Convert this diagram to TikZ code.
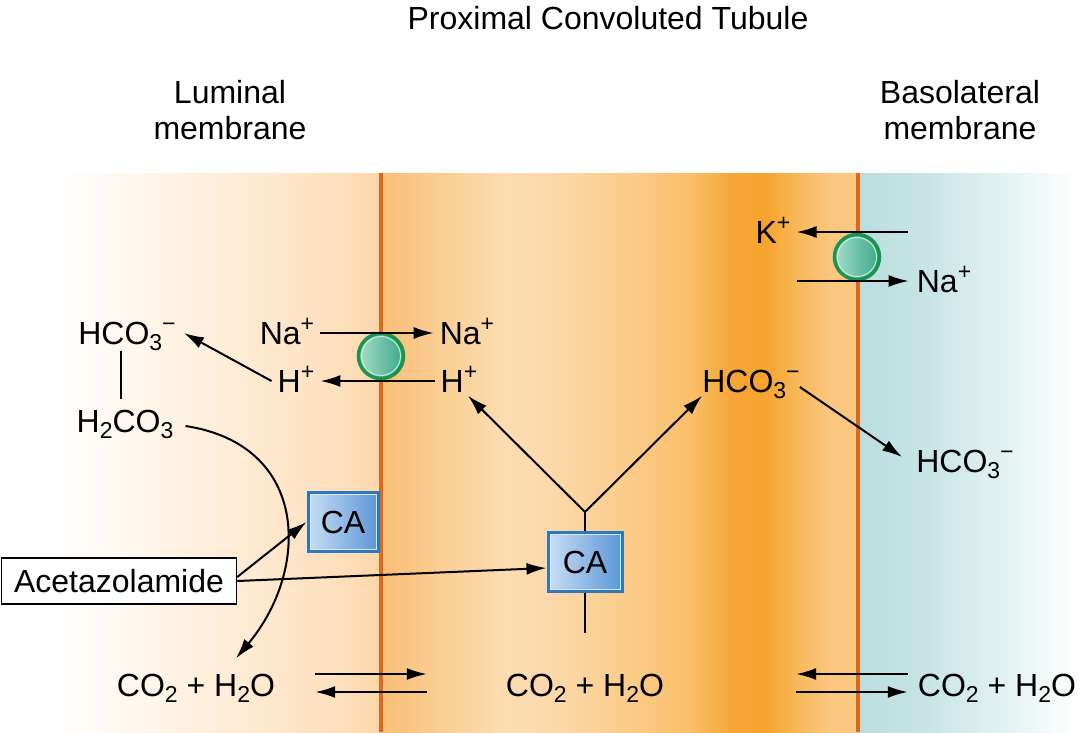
\documentclass[tikz,border=0pt]{standalone}
\usepackage{fontspec}
\setmainfont{Liberation Sans}
\usetikzlibrary{arrows.meta,calc}
\definecolor{memc}{HTML}{DA681E}
\definecolor{pumpc}{HTML}{1A9450}
\definecolor{pumpL}{HTML}{A8DCC8}
\definecolor{pumpR}{HTML}{38A88A}
\definecolor{pumpI}{HTML}{BDF0D6}
\definecolor{cab}{HTML}{2F78C0}
\definecolor{caL}{HTML}{C8DEF6}
\definecolor{caR}{HTML}{5C96D6}
\definecolor{caI}{HTML}{D8E8F8}
\definecolor{lA}{HTML}{FFF6EC}
\definecolor{lB}{HTML}{FEEAD2}
\definecolor{lC}{HTML}{FDDFBC}
\definecolor{lD}{HTML}{FCD6A8}
\definecolor{cA}{HTML}{F8BE78}
\definecolor{cB}{HTML}{FACB8E}
\definecolor{cC}{HTML}{FCDCB0}
\definecolor{cD}{HTML}{FCDAAE}
\definecolor{cE}{HTML}{FBCD8E}
\definecolor{cF}{HTML}{F9BF6A}
\definecolor{cG}{HTML}{F6A638}
\definecolor{cH}{HTML}{F6A42E}
\definecolor{cI}{HTML}{F8BA5E}
\definecolor{cJ}{HTML}{FAC680}
\definecolor{cK}{HTML}{FAC882}
\definecolor{bA}{HTML}{BADDDE}
\definecolor{bB}{HTML}{C9E5E6}
\definecolor{bC}{HTML}{E2F1F1}
\newcommand\chsub[1]{\raisebox{-0.2em}{\fontsize{23}{23}\selectfont #1}}
\newcommand\chsup[1]{\raisebox{0.42em}{\fontsize{23}{23}\selectfont #1}}
\begin{document}
\begin{tikzpicture}[x=1pt,y=-1pt,
  lbl/.style={font=\fontsize{32}{36}\selectfont, inner xsep=6pt, inner ysep=0pt, text height=23pt, text depth=0pt},
  hdr/.style={font=\fontsize{32}{36}\selectfont, inner sep=0pt, align=center},
  arr/.style={draw=black, line width=2pt, -{Latex[length=20pt,width=12pt]}},
  plain/.style={draw=black, line width=2pt},
  mem/.style={draw=memc, line width=3.5pt},
  pump/.style={circle, minimum size=45pt, inner sep=0pt, draw=pumpc, line width=3.5pt, left color=pumpL, right color=pumpR},
  pumpin/.style={draw=pumpI, line width=1pt},
  cabox/.style={rectangle, inner sep=0pt, draw=cab, line width=3pt, left color=caL, right color=caR, font=\fontsize{32}{36}\selectfont, text height=23pt, text depth=0pt},
  cain/.style={draw=caI, line width=1pt},
  drugbox/.style={rectangle, inner sep=0pt, draw=black, line width=1.5pt, fill=white, minimum width=235pt, minimum height=46pt, font=\fontsize{32}{36}\selectfont, text height=23pt, text depth=0pt}
]
\useasboundingbox (0,0) rectangle (1086,732);
% backgrounds
\shade[left color=white, right color=lA] (55,173) rectangle (140.5,732);
\shade[left color=lA, right color=lB] (140,173) rectangle (250.5,732);
\shade[left color=lB, right color=lC] (250,173) rectangle (340.5,732);
\shade[left color=lC, right color=lD] (340,173) rectangle (381.5,732);
\shade[left color=cA, right color=cB] (381,173) rectangle (430.5,732);
\shade[left color=cB, right color=cC] (430,173) rectangle (500.5,732);
\shade[left color=cC, right color=cD] (500,173) rectangle (540.5,732);
\shade[left color=cD, right color=cE] (540,173) rectangle (620.5,732);
\shade[left color=cE, right color=cF] (620,173) rectangle (690.5,732);
\shade[left color=cF, right color=cG] (690,173) rectangle (730.5,732);
\shade[left color=cG, right color=cH] (730,173) rectangle (765.5,732);
\shade[left color=cH, right color=cI] (765,173) rectangle (800.5,732);
\shade[left color=cI, right color=cJ] (800,173) rectangle (830.5,732);
\shade[left color=cJ, right color=cK] (830,173) rectangle (858.5,732);
\shade[left color=bA, right color=bB] (858,173) rectangle (930.5,732);
\shade[left color=bB, right color=bC] (930,173) rectangle (1000.5,732);
\shade[left color=bC, right color=white] (1000,173) rectangle (1078,732);
% membranes
\draw[mem] (381,173) -- (381,732);
\draw[mem] (858,173) -- (858,732);
% headers
\node[hdr] (title) at (608,18) {Proximal Convoluted Tubule};
\node[hdr] (lumt) at (230,110) {Luminal\\membrane};
\node[hdr] (bast) at (960,110) {Basolateral\\membrane};
% pumps
\node[pump] (p1) at (381,356) {};
\draw[pumpin] (p1.center) circle (19.5pt);
\node[pump] (p2) at (857,257) {};
\draw[pumpin] (p2.center) circle (19.5pt);
% labels
\node[lbl] (hco3l) at (127,333) {HCO\chsub{3}\chsup{−}};
\node[lbl] (h2co3) at (125,421) {H\chsub{2}CO\chsub{3}};
\node[lbl] (nal) at (287,333) {Na\chsup{+}};
\node[lbl] (nar) at (467,333) {Na\chsup{+}};
\node[lbl] (hl) at (296,381) {H\chsup{+}};
\node[lbl] (hr) at (459,381) {H\chsup{+}};
\node[lbl] (hm) at (751,381) {HCO\chsub{3}\chsup{−}};
\node[lbl] (hbr) at (965,461) {HCO\chsub{3}\chsup{−}};
\node[lbl] (kp) at (773,232) {K\chsup{+}};
\node[lbl] (nab) at (944,281) {Na\chsup{+}};
\node[lbl] (col) at (196,685) {CO\chsub{2} + H\chsub{2}O};
\node[lbl] (com) at (585,685) {CO\chsub{2} + H\chsub{2}O};
\node[lbl] (cor) at (997,685) {CO\chsub{2} + H\chsub{2}O};
% CA boxes
\node[cabox, minimum width=70pt, minimum height=59pt] (ca1) at (343,522) {CA};
\draw[cain] ($(ca1.north west)+(3.5,3.5)$) rectangle ($(ca1.south east)+(-3.5,-3.5)$);
\node[cabox, minimum width=74pt, minimum height=59pt] (ca2) at (585,562) {CA};
\draw[cain] ($(ca2.north west)+(3.5,3.5)$) rectangle ($(ca2.south east)+(-3.5,-3.5)$);
\node[drugbox] (acz) at (119,581) {Acetazolamide};
% coordinates
\coordinate (yj) at (585,512);
\coordinate (castem) at (585,633);
\coordinate (kst) at (908,232);
\coordinate (nast) at (797,281);
% luminal exchanger
\draw[arr] (nal.east) -- (nar.west);
\draw[arr] (hr.west) -- (hl.east);
\draw[arr] (hl.west) -- ([xshift=2pt]hco3l.east);
\draw[plain, shorten <=6pt, shorten >=10pt] ([xshift=-6pt]hco3l.south) -- ([xshift=-4pt]h2co3.north);
\draw[arr] ([xshift=6pt,yshift=-5pt]h2co3.east) .. controls (310,445) and (310,570) .. ([xshift=40pt,yshift=15pt]col.north);
% acetazolamide
\draw[arr] ([yshift=4pt]acz.east) -- (ca1.west);
\draw[arr] (acz.east) -- ([yshift=-6pt]ca2.west);
% CA2 stems
\draw[plain] (ca2.north) -- (yj);
\draw[plain] (ca2.south) -- (castem);
\draw[arr] (yj) -- ([xshift=9pt,yshift=-3pt]hr.south);
\draw[arr] (yj) -- ([xshift=6pt,yshift=-3pt]hm.south west);
\draw[arr] ([xshift=-6pt,yshift=-6pt]hm.east) -- ([xshift=-8pt,yshift=4pt]hbr.west);
% basolateral pump
\draw[arr] (kst) -- (kp.east);
\draw[arr] (nast) -- ([xshift=-2pt]nab.west);
% equilibria
\draw[arr] ([xshift=34pt,yshift=11pt]col.east) -- ([xshift=-73pt,yshift=11pt]com.west);
\draw[arr] ([xshift=-73pt,yshift=-7pt]com.west) -- ([xshift=34pt,yshift=-7pt]col.east);
\draw[arr] ([xshift=-4pt,yshift=11pt]cor.west) -- ([xshift=126pt,yshift=11pt]com.east);
\draw[arr] ([xshift=126pt,yshift=-7pt]com.east) -- ([xshift=-4pt,yshift=-7pt]cor.west);
\end{tikzpicture}
\end{document}
